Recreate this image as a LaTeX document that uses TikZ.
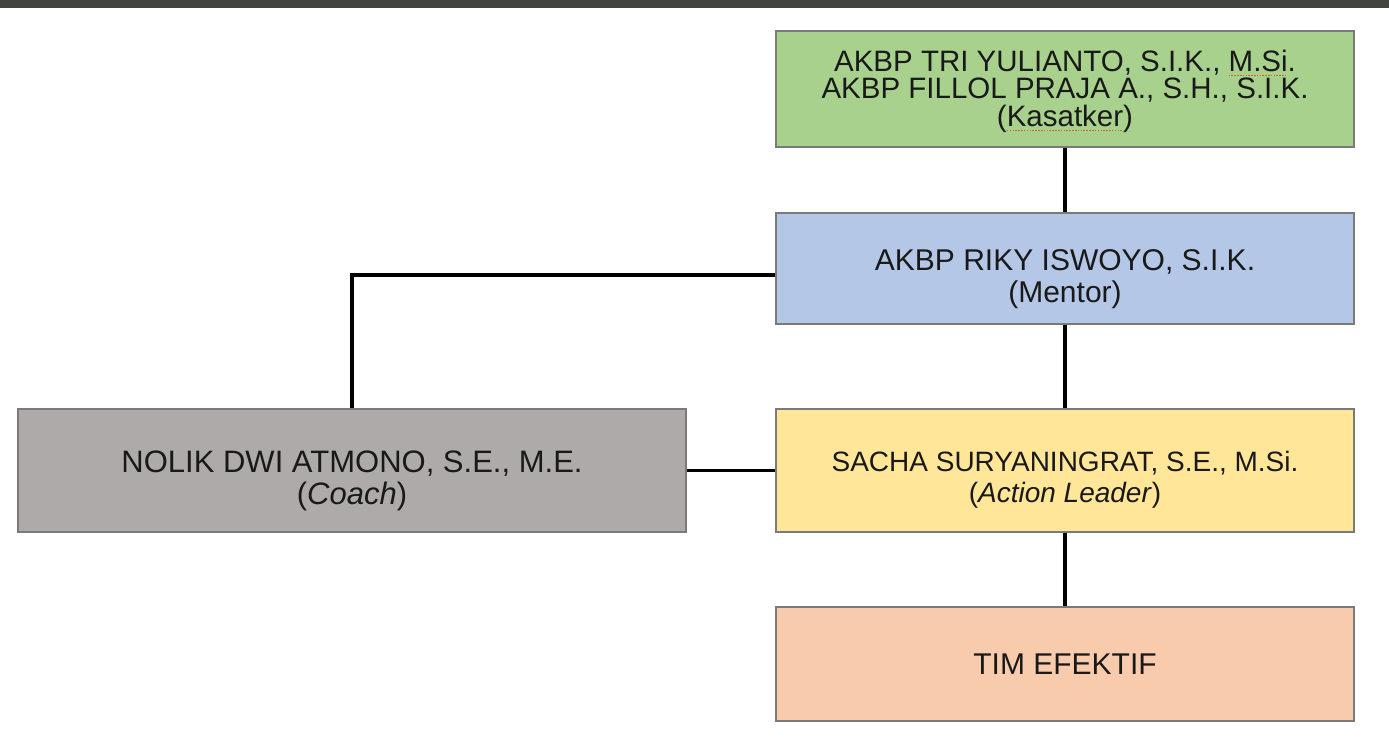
\documentclass[tikz,border=0pt]{standalone}
\usepackage{fontspec}
\setmainfont{Liberation Sans}
\usetikzlibrary{calc}
\definecolor{barcol}{HTML}{454340}
\definecolor{gfill}{HTML}{A9D18E}
\definecolor{bfill}{HTML}{B4C7E7}
\definecolor{yfill}{HTML}{FFE699}
\definecolor{cfill}{HTML}{AEAAAA}
\definecolor{ofill}{HTML}{F8CBAD}
\definecolor{edgecol}{HTML}{7A7A7A}
\definecolor{spellred}{HTML}{D9622B}
\newcommand\spellmark[1]{\leavevmode\setbox0\hbox{#1}\rlap{\color{spellred}\lower5pt\hbox to\wd0{\xleaders\hbox{\rule{1.6pt}{1.1pt}\kern1.2pt}\hfil}}\box0}
\begin{document}
\begin{tikzpicture}[x=1pt,y=-1pt,
  orgbox/.style={draw=edgecol, line width=1.5pt, inner sep=0pt},
  orgtext/.style={align=center, inner sep=0pt, text=black!90,
    font=\fontsize{30}{32}\selectfont},
  link/.style={line width=3.6pt, black}]
\useasboundingbox (0,0) rectangle (1389,743);
\fill[white] (0,0) rectangle (1389,743);
\fill[barcol] (0,0) rectangle (1389,8);
% boxes
\node[orgbox, fill=gfill, minimum width=578pt, minimum height=116pt] (kas) at (1065,89) {};
\node[orgbox, fill=bfill, minimum width=578pt, minimum height=111pt] (men) at (1065,268.5) {};
\node[orgbox, fill=yfill, minimum width=578pt, minimum height=123pt] (act) at (1065,470.5) {};
\node[orgbox, fill=cfill, minimum width=668pt, minimum height=123pt] (coa) at (352,470.5) {};
\node[orgbox, fill=ofill, minimum width=578pt, minimum height=114pt] (tim) at (1065,664) {};
% texts
\node[orgtext, font=\fontsize{29.5}{27.5}\selectfont] (kasT) at ($(kas)+(0,2)$)
  {AKBP TRI YULIANTO, S.I.K., \spellmark{M.Si}.\\AKBP FILLOL PRAJA A., S.H., S.I.K.\\(\spellmark{Kasatker})};
\node[orgtext] (menT) at ($(men)+(0,11)$) {AKBP RIKY ISWOYO, S.I.K.\\(Mentor)};
\node[orgtext, font=\fontsize{28}{31}\selectfont] (actT) at ($(act)+(0,9)$) {SACHA SURYANINGRAT, S.E., M.Si.\\(\textit{Action Leader})};
\node[orgtext, font=\fontsize{31}{32}\selectfont] (coaT) at ($(coa)+(0,10)$) {NOLIK DWI ATMONO, S.E., M.E.\\(\textit{Coach})};
\node[orgtext] (timT) at ($(tim)+(0,0)$) {TIM EFEKTIF};
% connectors
\coordinate (ml) at ($(men.west)+(0,6.5)$);
\draw[link] (kas.south) -- (men.north);
\draw[link] (men.south) -- (act.north);
\draw[link] (act.south) -- (tim.north);
\draw[link] (ml) -| (coa.north);
\draw[link] (coa.east) -- (act.west);
\end{tikzpicture}
\end{document}
